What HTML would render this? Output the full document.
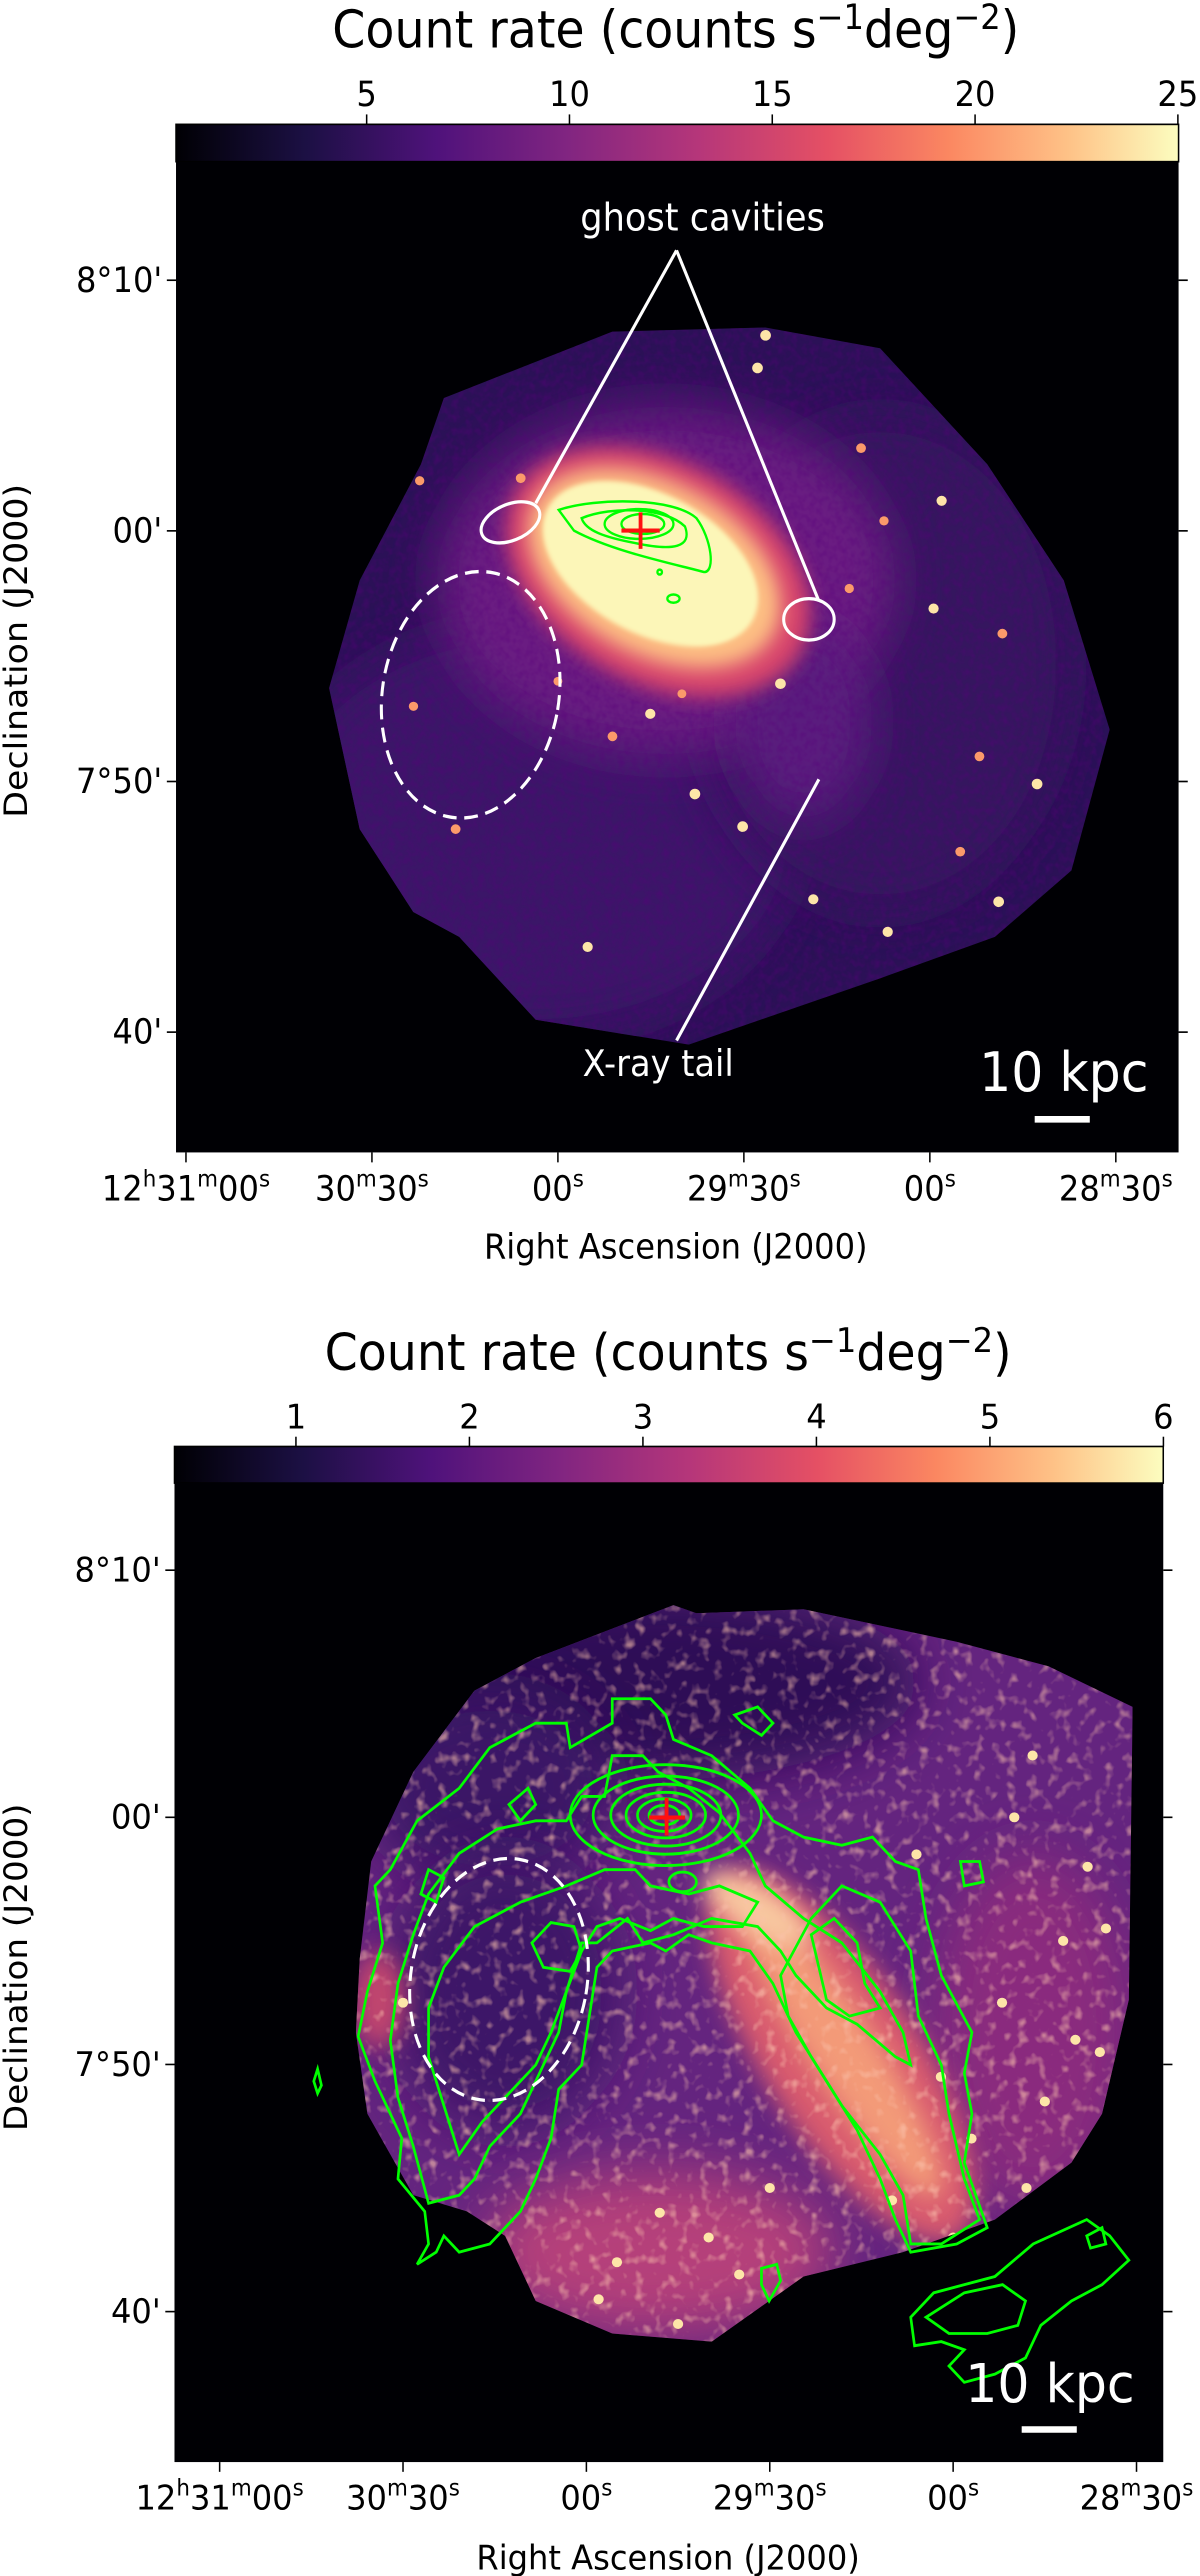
<!DOCTYPE html>
<html><head><meta charset="utf-8"><style>
html,body{margin:0;padding:0;background:#fff;}
#wrap{position:relative;width:1200px;height:2576px;overflow:hidden;font-family:"DejaVu Sans","Liberation Sans",sans-serif;}
svg{position:absolute;left:0;}
text{font-family:"DejaVu Sans","Liberation Sans",sans-serif;fill:#000;}
</style></head><body>
<div id="wrap">
<svg id="top" style="top:0" width="1200" height="1300" viewBox="0 0 1568 1568" preserveAspectRatio="none">
<defs>
<linearGradient id="magma" x1="0" x2="1" y1="0" y2="0">
<stop offset="0" stop-color="#000004"/><stop offset="0.13" stop-color="#1c1044"/><stop offset="0.26" stop-color="#4f127b"/><stop offset="0.39" stop-color="#812581"/><stop offset="0.52" stop-color="#b5367a"/><stop offset="0.65" stop-color="#e55064"/><stop offset="0.77" stop-color="#fb8761"/><stop offset="0.89" stop-color="#fec287"/><stop offset="1" stop-color="#fcfdbf"/>
</linearGradient>
<filter id="b30" x="-50%" y="-50%" width="200%" height="200%"><feGaussianBlur stdDeviation="30"/></filter>
<filter id="b12" x="-50%" y="-50%" width="200%" height="200%"><feGaussianBlur stdDeviation="12"/></filter>
<filter id="b3"><feGaussianBlur stdDeviation="3"/></filter>
<filter id="noise1"><feTurbulence type="fractalNoise" baseFrequency="0.12" numOctaves="2" seed="3"/><feColorMatrix type="matrix" values="0 0 0 0 0.1  0 0 0 0 0  0 0 0 0 0.2  0 0 0 -1.6 1.0"/></filter>
<clipPath id="fp1"><polygon points="580,480 800,400 1000,395 1150,420 1290,560 1390,700 1450,880 1400,1050 1300,1130 1150,1180 900,1260 700,1230 600,1130 540,1100 470,1000 430,830 470,700 550,560"/></clipPath>
</defs>
<text x="883" y="57" font-size="62" text-anchor="middle">Count rate (counts s<tspan dy="-22" font-size="42">−1</tspan><tspan dy="22">deg</tspan><tspan dy="-22" font-size="42">−2</tspan><tspan dy="22">)</tspan></text>
<rect x="230" y="150" width="1310" height="45" fill="url(#magma)" stroke="#000" stroke-width="2"/>
<g id="cbt1"></g>
<rect x="230" y="195" width="1310" height="1195" fill="#000004"/>
<g clip-path="url(#fp1)">
<rect x="400" y="380" width="1100" height="900" fill="#2b1157"/>
<ellipse cx="700" cy="1000" rx="350" ry="250" fill="#3a1468" filter="url(#b30)"/>
<ellipse cx="1150" cy="800" rx="250" ry="300" fill="#36135f" filter="url(#b30)"/>
<ellipse cx="870" cy="700" rx="300" ry="210" fill="#6a1c82" filter="url(#b30)"/>
<ellipse cx="1050" cy="870" rx="90" ry="120" fill="#5a1a7e" filter="url(#b30)"/>
<rect x="400" y="380" width="1100" height="900" filter="url(#noise1)" opacity="0.5"/>
<ellipse cx="860" cy="690" rx="210" ry="135" transform="rotate(25 860 690)" fill="#d8456c" filter="url(#b12)"/>
<ellipse cx="855" cy="685" rx="175" ry="105" transform="rotate(25 855 685)" fill="#fdbf83" filter="url(#b12)"/>
<ellipse cx="850" cy="680" rx="150" ry="85" transform="rotate(25 850 680)" fill="#fcf6b8" filter="url(#b3)"/>
<ellipse cx="920" cy="730" rx="60" ry="45" fill="#fcf6b8" filter="url(#b3)"/>
<g id="src1"></g>
</g>
<g fill="none" stroke="#00ff00" stroke-width="3">
<path d="M730,615 C780,600 880,600 910,625 C930,650 935,690 920,690 C880,680 800,665 750,640 Z"/>
<path d="M760,625 C800,610 870,612 895,635 C905,660 880,665 830,655 C790,648 765,640 760,625 Z"/>
<ellipse cx="835" cy="632" rx="45" ry="18"/><ellipse cx="840" cy="632" rx="28" ry="12"/>
<ellipse cx="880" cy="722" rx="8" ry="5"/><circle cx="862" cy="690" r="3"/>
</g>
<g stroke="#ff1010" stroke-width="5"><line x1="812" y1="640" x2="862" y2="640"/><line x1="837" y1="618" x2="837" y2="662"/></g>
<g fill="none" stroke="#fff" stroke-width="4">
<ellipse cx="667" cy="630" rx="40" ry="22" transform="rotate(-20 667 630)"/>
<ellipse cx="1057" cy="747" rx="33" ry="25"/>
<line x1="884" y1="302" x2="700" y2="607"/>
<line x1="884" y1="302" x2="1070" y2="725"/>
<ellipse cx="615" cy="838" rx="115" ry="150" transform="rotate(12 615 838)" stroke-dasharray="18,10"/>
<line x1="1070" y1="940" x2="884" y2="1255"/>
<line x1="1352" y1="1350" x2="1424" y2="1350" stroke-width="8"/>
</g>
<text x="918" y="278" font-size="46" style="fill:#fff" text-anchor="middle">ghost cavities</text>
<text x="860" y="1298" font-size="44" style="fill:#fff" text-anchor="middle">X-ray tail</text>
<text x="1390" y="1316" font-size="66" style="fill:#fff" text-anchor="middle">10 kpc</text>
<g id="ax1"></g>
<text x="883" y="1518" font-size="42" text-anchor="middle">Right Ascension (J2000)</text>
<text transform="translate(35 785) rotate(-90)" font-size="42" text-anchor="middle">Declination (J2000)</text>
</svg>

<svg id="bot" style="top:1300px" width="1200" height="1276" viewBox="0 0 1568 1568" preserveAspectRatio="none">
<defs>
<linearGradient id="magma2" x1="0" x2="1" y1="0" y2="0">
<stop offset="0" stop-color="#000004"/><stop offset="0.13" stop-color="#1c1044"/><stop offset="0.26" stop-color="#4f127b"/><stop offset="0.39" stop-color="#812581"/><stop offset="0.52" stop-color="#b5367a"/><stop offset="0.65" stop-color="#e55064"/><stop offset="0.77" stop-color="#fb8761"/><stop offset="0.89" stop-color="#fec287"/><stop offset="1" stop-color="#fcfdbf"/>
</linearGradient>
<filter id="c30" x="-50%" y="-50%" width="200%" height="200%"><feGaussianBlur stdDeviation="35"/></filter>
<filter id="c15" x="-50%" y="-50%" width="200%" height="200%"><feGaussianBlur stdDeviation="15"/></filter>
<filter id="noise2"><feTurbulence type="fractalNoise" baseFrequency="0.07" numOctaves="2" seed="7"/><feColorMatrix type="matrix" values="0 0 0 0 0.97  0 0 0 0 0.55  0 0 0 0 0.42  0 0 0 3 -1.6"/></filter>
<clipPath id="fp2"><polygon points="470,810 485,690 540,580 620,480 700,440 880,375 910,385 1050,380 1250,420 1370,450 1480,500 1475,860 1440,1000 1400,1060 1300,1130 1180,1170 1050,1200 930,1280 800,1270 700,1230 660,1150 610,1120 540,1100 480,1000 465,900"/></clipPath>
</defs>
<text x="873" y="86" font-size="62" text-anchor="middle">Count rate (counts s<tspan dy="-22" font-size="42">−1</tspan><tspan dy="22">deg</tspan><tspan dy="-22" font-size="42">−2</tspan><tspan dy="22">)</tspan></text>
<rect x="228" y="180" width="1292" height="45" fill="url(#magma2)" stroke="#000" stroke-width="2"/>
<g id="cbt2"></g>
<rect x="228" y="225" width="1292" height="1203" fill="#000004"/>
<g clip-path="url(#fp2)">
<rect x="440" y="360" width="1060" height="940" fill="#64247f"/>
<ellipse cx="850" cy="470" rx="350" ry="120" fill="#2e1156" filter="url(#c30)"/>
<ellipse cx="640" cy="600" rx="160" ry="120" fill="#3a1466" filter="url(#c30)"/>
<ellipse cx="660" cy="850" rx="150" ry="170" fill="#3d1567" filter="url(#c30)"/>
<ellipse cx="860" cy="1170" rx="230" ry="100" fill="#b5407a" filter="url(#c30)"/>
<ellipse cx="1350" cy="900" rx="130" ry="220" fill="#8a2a7e" filter="url(#c30)"/>
<ellipse cx="1100" cy="930" rx="100" ry="270" transform="rotate(-35 1100 930)" fill="#d85a6e" filter="url(#c15)"/>
<ellipse cx="1100" cy="920" rx="45" ry="220" transform="rotate(-35 1100 920)" fill="#f39a78" filter="url(#c15)"/>
<ellipse cx="990" cy="750" rx="30" ry="80" transform="rotate(-60 990 750)" fill="#f8c8a0" filter="url(#c15)"/>
<ellipse cx="495" cy="860" rx="35" ry="60" fill="#c0446e" filter="url(#c15)"/>
<rect x="440" y="360" width="1060" height="940" filter="url(#noise2)" opacity="0.6"/>
<g id="src2"></g>
</g>
<g fill="none" stroke="#00ff00" stroke-width="3.5">
<path d="M545,1185 L560,1160 555,1120 520,1080 525,1030 490,960 468,905 480,850 500,790 490,720 510,700 545,640 600,600 640,550 700,520 740,520 745,550 800,520 800,490 850,490 870,510 880,540 930,560 980,600 1010,640 1050,660 1100,670 1140,660 1170,690 1200,700 1210,760 1230,830 1270,900 1260,950 1270,1000 1260,1060 1290,1140 1250,1160 1190,1170 1170,1130 1150,1080 1120,1020 1080,960 1040,900 1010,840 980,800 930,790 900,780 870,800 850,790 800,800 780,820 770,880 760,940 730,970 720,1030 700,1080 680,1120 640,1160 600,1170 580,1150 570,1170 Z"/>
<path d="M560,1110 L540,1040 520,980 510,910 520,840 540,780 560,730 600,680 650,650 700,640 740,640 760,610 790,610 800,560 840,560 860,580 900,600 940,630 980,680 1000,720 1050,760 1100,790 1150,850 1180,900 1190,940 1170,930 1120,890 1080,870 1040,830 1020,800 990,770 930,760 880,780 840,790 820,760 780,790 760,790 740,850 730,900 700,960 680,1000 640,1040 620,1080 600,1100 Z"/>
<path d="M600,1050 L580,990 560,930 560,870 580,820 620,770 680,740 740,720 790,700 830,700 850,720 900,730 940,720 990,740 970,770 920,770 880,760 850,775 810,760 780,770 760,800 740,850 720,900 700,940 660,980 630,1010 Z"/>
<path d="M1020,830 L1060,760 1100,720 1150,740 1190,800 1200,880 1230,940 1240,1000 1260,1080 1280,1130 1230,1160 1190,1160 1180,1100 1150,1050 1100,990 1060,930 1030,880 Z"/>
<path d="M1060,780 L1090,760 1120,790 1130,840 1150,870 1110,880 1080,860 1070,820 Z"/>
<ellipse cx="870" cy="633" rx="125" ry="62"/><ellipse cx="870" cy="633" rx="95" ry="48"/><ellipse cx="870" cy="633" rx="72" ry="38"/><ellipse cx="870" cy="633" rx="52" ry="28"/><ellipse cx="868" cy="633" rx="35" ry="20"/><ellipse cx="868" cy="633" rx="20" ry="12"/>
<ellipse cx="892" cy="715" rx="18" ry="12"/>
<path d="M695,790 L720,765 750,770 760,800 745,825 710,820 Z"/>
<path d="M690,600 L700,620 680,640 665,620 Z M560,700 L580,710 570,740 550,730 Z M960,510 L990,500 1010,520 995,535 970,520 Z M1255,690 L1280,690 1285,715 1260,720 Z"/>
<path d="M1190,1250 L1220,1220 1300,1200 1350,1160 1420,1130 1450,1150 1475,1180 1440,1210 1400,1230 1360,1260 1340,1300 1300,1320 1260,1330 1240,1310 1260,1290 1230,1280 1195,1285 Z"/>
<path d="M1210,1250 L1260,1220 1310,1210 1340,1230 1330,1260 1290,1270 1240,1270 Z"/>
<path d="M1420,1150 L1440,1140 1445,1160 1425,1165 Z M995,1190 L1015,1185 1020,1205 1005,1230 995,1210 Z"/>
<path d="M415,945 L420,965 415,975 410,960 Z"/>
</g>
<g stroke="#ff1010" stroke-width="5"><line x1="848" y1="636" x2="895" y2="636"/><line x1="871" y1="612" x2="871" y2="658"/></g>
<ellipse cx="652" cy="835" rx="115" ry="150" transform="rotate(12 652 835)" fill="none" stroke="#fff" stroke-width="4" stroke-dasharray="18,10"/>
<line x1="1335" y1="1388" x2="1407" y2="1388" stroke="#fff" stroke-width="8"/>
<text x="1372" y="1354" font-size="66" style="fill:#fff" text-anchor="middle">10 kpc</text>
<g id="ax2"></g>
<text x="873" y="1560" font-size="42" text-anchor="middle">Right Ascension (J2000)</text>
<text transform="translate(35 820) rotate(-90)" font-size="42" text-anchor="middle">Declination (J2000)</text>
</svg>
</div>
<script>
// Colorbar ticks
const cbTicksTop = [5, 10, 15, 20, 25];
const cbTicksBot = [1, 2, 3, 4, 5, 6];
// Axis ticks: RA in seconds past 12h28m, Dec in arcmin past 7°
const raTicks = [180, 150, 120, 90, 60, 30];
const raLabels = [["12","h","31","m","00","s"],["30","m","30","s"],["00","s"],["29","m","30","s"],["00","s"],["28","m","30","s"]];
const decTicks = [70, 60, 50, 40];
const decLabels = ["8°10'", "00'", "7°50'", "40'"];
// Point sources (top panel): RA seconds, Dec arcmin
const srcRaTop = [86.5,87.8,71.1,58.1,67.4,59.4,48.3,73.0,84.1,105.1,111.2,97.9,90.2,78.8,48.9,55.1,52.0,42.7,115.2,66.8,143.3,136.5,142.3,126.0,120.0,100.0];
const srcDecTop = [67.8,66.5,63.3,61.2,60.4,56.9,55.9,57.7,53.9,52.7,51.8,49.5,48.2,45.3,45.2,47.2,51.0,49.9,43.4,44.0,53.0,48.1,62.0,62.1,54.0,53.5];
const srcFluxTop = [1,1,0.8,0.9,0.7,0.9,0.8,0.7,1,0.9,0.8,1,1,0.9,1,0.8,0.8,1,0.9,0.9,0.7,0.8,0.7,0.8,0.6,0.6];
// Point sources (bottom panel)
const srcRaBot = [40.0,45.0,36.0,48.0,52.0,42.0,57.0,62.0,38.0,44.0,100.0,95.0,108.0,115.0,90.0,80.0,70.0,105.0,118.0,85.0,50.0,35.0,47.0,66.0,150.0,60.0];
const srcDecBot = [51.0,48.5,50.5,45.0,52.5,55.0,47.0,49.5,58.0,42.5,43.0,41.5,44.0,42.0,45.0,41.0,44.5,39.5,40.5,39.0,60.0,55.5,62.5,58.5,52.5,43.0];

const NS = "http://www.w3.org/2000/svg";
function mk(tag, attrs, parent){const e=document.createElementNS(NS,tag);for(const k in attrs)e.setAttribute(k,attrs[k]);parent.appendChild(e);return e;}

function buildPanel(cfg){
  const cb = document.getElementById(cfg.cbId);
  const cx = v => cfg.cbX0 + (v - 0.3) * cfg.cbUnit;
  cfg.cbTicks.forEach(v=>{
    const l = mk("line",{x1:cx(v),x2:cx(v),y1:cfg.cbY,y2:cfg.cbY-12,stroke:"#000","stroke-width":2},cb);
    
    
    const t = mk("text",{x:cx(v),y:cfg.cbY-22,"font-size":42,"text-anchor":"middle"},cb);
    t.textContent = v;
    
    
  });
  const ax = document.getElementById(cfg.axId);
  const xs = ra => cfg.x0 + (180 - ra) * cfg.xu;
  const ys = dec => cfg.y0 + (70 - dec) * cfg.yu;
  raTicks.forEach((ra,i)=>{
    const x = xs(ra);
    const l = mk("line",{x1:x,x2:x,y1:cfg.bottom,y2:cfg.bottom+12,stroke:"#000","stroke-width":2},ax);
    
    
    const t = mk("text",{x:x,y:cfg.bottom+58,"font-size":42,"text-anchor":"middle"},ax);
    
    
    const parts = raLabels[i];
    for(let j=0;j<parts.length;j+=2){
      const a = mk("tspan",{},t); a.textContent = parts[j];
      if(j>0) a.setAttribute("dy","17");
      const s = mk("tspan",{dy:"-17","font-size":28},t); s.textContent = parts[j+1];
    }
  });
  decTicks.forEach((d,i)=>{
    const y = ys(d);
    const l = mk("line",{x1:cfg.left,x2:cfg.left-12,y1:y,y2:y,stroke:"#000","stroke-width":2},ax);
    
    
    const r = mk("line",{x1:cfg.right,x2:cfg.right+12,y1:y,y2:y,stroke:"#000","stroke-width":2},ax);
    
    
    const t = mk("text",{x:cfg.left-18,y:y+14,"font-size":42,"text-anchor":"end"},ax);
    t.textContent = decLabels[i];
    
    
  });
  const sg = document.getElementById(cfg.srcId);
  cfg.srcRa.forEach((ra,i)=>{
    const f = cfg.srcFlux ? cfg.srcFlux[i] : 0.9;
    const c = mk("ellipse",{cx:xs(ra),cy:ys(cfg.srcDec[i]),rx:4+3*f,ry:3.6+2.8*f,fill:f>0.85?"#fde5a8":"#fb9a6a"},sg);
    
    
  });
}
buildPanel({cbId:"cbt1",cbTicks:cbTicksTop,cbX0:230,cbUnit:53.0,cbY:150,axId:"ax1",x0:243,xu:8.1,y0:338,yu:30.23,bottom:1390,left:230,right:1540,srcId:"src1",srcRa:srcRaTop,srcDec:srcDecTop,srcFlux:srcFluxTop});
buildPanel({cbId:"cbt2",cbTicks:cbTicksBot,cbX0:228,cbUnit:226.7,cbY:180,axId:"ax2",x0:287,xu:7.987,y0:332,yu:30.37,bottom:1428,left:228,right:1520,srcId:"src2",srcRa:srcRaBot,srcDec:srcDecBot});
</script>
</body></html>
